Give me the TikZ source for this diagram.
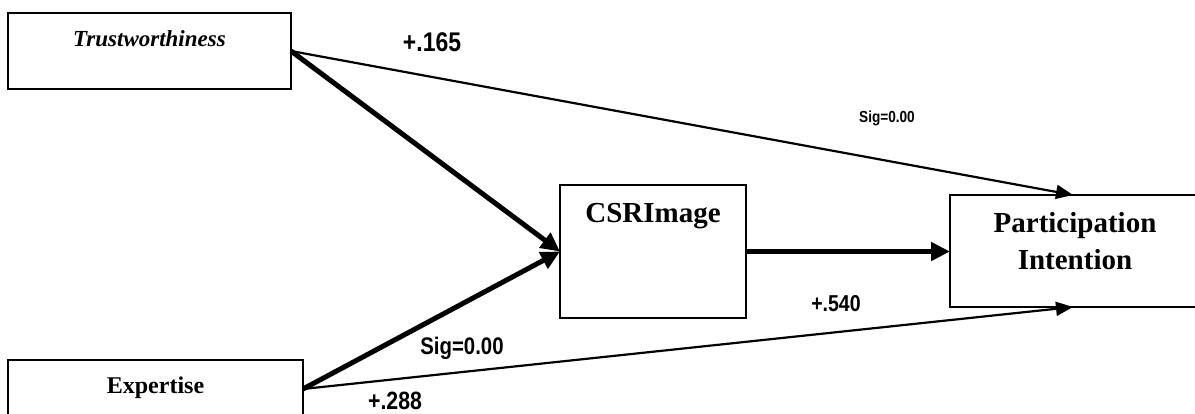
\documentclass[tikz,border=0pt]{standalone}
\usepackage{fontspec}
\setmainfont{Liberation Serif}
\newfontfamily\labfont[FakeStretch=0.85]{Liberation Sans}
\usetikzlibrary{arrows.meta,calc}
\begin{document}
\begin{tikzpicture}[x=1pt,y=-1pt,
  box/.style={draw,line width=2pt,rectangle,inner sep=0pt,outer sep=0pt,anchor=north west},
  thinarrow/.style={line width=2.2pt,-{Triangle[length=17pt,width=14pt]}},
  thickarrow/.style={line width=5pt,-{Triangle[length=19pt,width=18pt]}},
  lab/.style={font=\labfont\bfseries\fontsize{#1}{#1}\selectfont,anchor=base,inner sep=0pt},
]
\useasboundingbox (0,0) rectangle (1195,414);
\clip (0,0) rectangle (1195,414);

% boxes
\node[box,minimum width=283pt,text height=34pt,text depth=42pt,
      font=\bfseries\itshape\fontsize{23}{27}\selectfont] (trust) at (8,13) {Trustworthiness};
\node[box,minimum width=295pt,text height=33pt,text depth=70pt,
      font=\bfseries\fontsize{24}{28}\selectfont] (exp) at (8,360) {Expertise};
\node[box,minimum width=186pt,text height=38pt,text depth=95pt,
      font=\bfseries\fontsize{29}{33}\selectfont] (csr) at (560,185) {CSRImage};
\node[box,minimum width=290pt,minimum height=112pt] (pi) at (950,195) {};
\node[font=\bfseries\fontsize{29}{37}\selectfont,align=center,inner sep=0pt,anchor=center]
      (pitext) at (1075,241.5) {Participation\\Intention};

\coordinate (expout) at ($(exp.north east)+(0,29)$);

% connectors
\draw[thinarrow] (trust.east) -- ($(pi.north west)+(123,0)$);
\draw[thinarrow] (expout) -- ($(pi.south west)+(123,0)$);
\draw[thickarrow] (trust.east) -- (csr.west);
\draw[thickarrow] (expout) -- (csr.west);
\draw[thickarrow] (csr.east) -- (csr.east -| pi.west);

% labels
\node[lab=27] (l165) at (432,52) {+.165};
\node[lab=16] (sigtop) at (887,123) {Sig=0.00};
\node[lab=23] (l540) at (836,312) {+.540};
\node[lab=24] (sigbot) at (462,355) {Sig=0.00};
\node[lab=25] (l288) at (395,409) {+.288};
\end{tikzpicture}
\end{document}
